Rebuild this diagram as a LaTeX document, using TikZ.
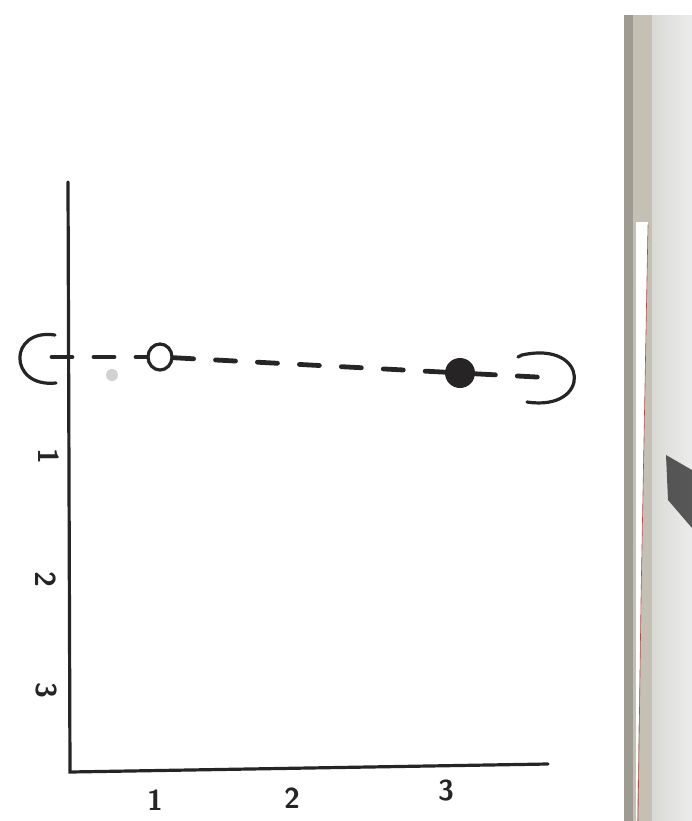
\documentclass[tikz,border=0pt]{standalone}
\usepackage{xcolor}
\usetikzlibrary{calc,arrows.meta,positioning,shapes.geometric}

\definecolor{ink}{HTML}{262424}
\definecolor{pageedge}{HTML}{C4C0B3}
\definecolor{pagedark}{HTML}{9E9B92}
\definecolor{shadow}{HTML}{D9D9D6}

\begin{document}
\begin{tikzpicture}[x=0.5pt, y=-0.5pt, >=Stealth, line cap=round,
		axis/.style={ink, line width=1.6pt},
		dashline/.style={ink, line width=2.4pt, dash pattern=on 10pt off 11pt},
		label/.style={ink, font=\sffamily\bfseries\Large, inner sep=0pt}]
		\useasboundingbox (0,0) rectangle (692,821);

		% Scanned page edge
		\fill[pagedark] (624,15) rectangle (633,821);
		\fill[pageedge] (633,15) rectangle (652,821);
		\shade[left color=shadow, right color=white!85!gray] (652,15) rectangle (692,821);
		\fill[white] (636,222) -- (648,222) -- (641,600) -- (637,821) -- (636,821) -- cycle;
		\draw[red!40!gray, line width=0.3pt] (648,225) -- (641,600) -- (638,821);
		\fill[black!85, opacity=0.75] (666,455) -- (692,470) -- (692,528) -- (668,500) -- cycle;

		% Axes
		\coordinate (ytop) at (68,182);
		\coordinate (origin) at (70,772);
		\coordinate (xend) at (548,764);
		\draw[axis] (ytop) -- (origin) -- (xend);

		% Axis labels
		\node[label] (x1) at (155,800) {1};
		\node[label] (x2) at (292,798) {2};
		\node[label] (x3) at (446,790) {3};
		\node[label, rotate=-90] (y1) at (49,456) {1};
		\node[label, rotate=-90] (y2) at (46,579) {2};
		\node[label, rotate=-90] (y3) at (46,690) {3};

		% Brackets
		\coordinate (lb) at (52,357);
		\coordinate (rb) at (556,378);
		\draw[axis] (55,335) .. controls (8,328) and (8,388) .. (56,383);
		\draw[axis] (518,357) -- (522,355) .. controls (590,340) and (592,412) .. (527,402);

		% Points
		\node[draw=ink, line width=1.6pt, ellipse, minimum width=12pt, minimum height=13pt, inner sep=0pt] (open) at (160,357) {};
		\node[fill=ink, circle, minimum size=15pt, inner sep=0pt] (closed) at (460,373) {};
		\fill[gray!35] (112,375) circle (6);

		% Dashed line
		\draw[dashline] (lb) -- (open);
		\draw[dashline] (open) -- (closed);
		\draw[dashline] (closed) -- (rb);
	\end{tikzpicture}
\end{document}
